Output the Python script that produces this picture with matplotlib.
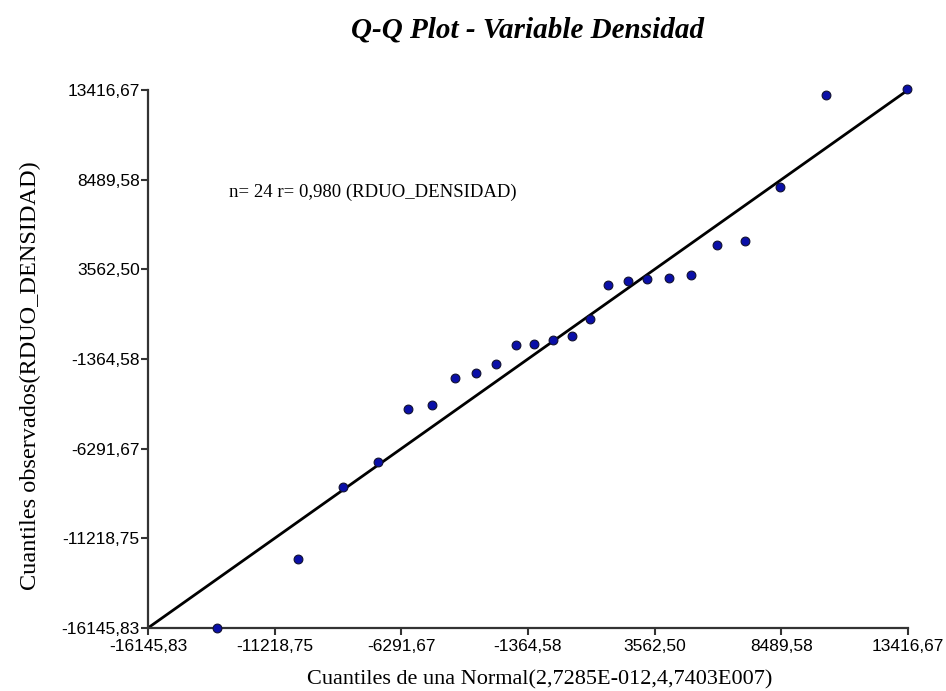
import matplotlib.pyplot as plt

# cuantiles teoricos (normal) y observados
teoricos = [-13462, -10311, -8560, -7198, -6032, -5098, -4203, -3386, -2608, -1830,
            -1130, -391, 348, 1048, 1748, 2526, 3265, 4121, 4977, 5988,
            7077, 8439, 10228, 13378]
observados = [-16146, -12354, -8398, -7024, -4112, -3892, -2408, -2133, -1639, -594,
              -539, -320, -100, 834, 2702, 2922, 3032, 3087, 3252, 4900,
              5120, 8087, 13143, 13473]
ticks = [-16145.83, -11218.75, -6291.67, -1364.58, 3562.50, 8489.58, 13416.67]
tick_lbl = [("%.2f" % t).replace(".", ",") for t in ticks]

serif = ["Liberation Serif", "DejaVu Serif"]
sans = ["Liberation Sans", "DejaVu Sans"]

fig = plt.figure(figsize=(9.46, 6.91), dpi=100)
ax = fig.add_axes([0.1564, 0.0912, 0.8034, 0.7786])

lo, hi = ticks[0], ticks[-1]
ax.plot([lo, hi], [lo, hi], color="black", lw=2, zorder=2)
ax.scatter(teoricos, observados, s=40, color="#0a0fa8", edgecolors="#101030",
           linewidths=0.8, zorder=3, clip_on=False)

ax.set_xlim(lo, hi)
ax.set_ylim(lo, hi)
ax.set_xticks(ticks)
ax.set_xticklabels(tick_lbl, family=sans, fontsize=12.5)
ax.set_yticks(ticks)
ax.set_yticklabels(tick_lbl, family=sans, fontsize=12.5)
ax.tick_params(direction="out", length=5, width=1.5, color="#333333")
ax.tick_params(axis="x", pad=3)
ax.tick_params(axis="y", pad=1)

for s in ["top", "right"]:
    ax.spines[s].set_visible(False)
for s in ["left", "bottom"]:
    ax.spines[s].set_linewidth(1.6)
    ax.spines[s].set_color("#333333")

fig.text(0.571, 0.016, "Cuantiles de una Normal(2,7285E-012,4,7403E007)", family=serif,
         fontsize=16, ha="center", va="center")
fig.text(0.0317, 0.457, "Cuantiles observados(RDUO_DENSIDAD)", family=serif,
         fontsize=17.5, rotation=90, ha="center", va="center")
fig.text(0.558, 0.9566, "Q-Q Plot - Variable Densidad", family=serif, fontsize=21,
         fontweight="bold", fontstyle="italic", ha="center", va="center")
ax.text(0.107, 0.81, "n= 24 r= 0,980 (RDUO_DENSIDAD)", transform=ax.transAxes,
        family=serif, fontsize=13.5, va="center")

fig.savefig("out.png", dpi=100)
